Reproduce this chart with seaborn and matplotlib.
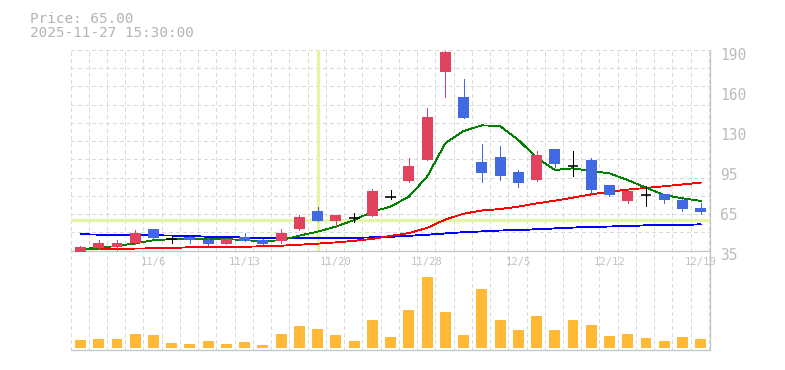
import numpy as np
import pandas as pd
import matplotlib
matplotlib.use("Agg")
import matplotlib.pyplot as plt
import matplotlib.transforms as mtransforms
import seaborn as sns

# ---------------- data ----------------
dates = ["10/30", "10/31", "11/4", "11/5", "11/6", "11/7", "11/10", "11/11", "11/12",
         "11/13", "11/14", "11/17", "11/18", "11/19", "11/20", "11/21", "11/25", "11/26",
         "11/27", "11/28", "12/1", "12/2", "12/3", "12/4", "12/5", "12/8", "12/9",
         "12/10", "12/11", "12/12", "12/15", "12/16", "12/17", "12/18", "12/19"]
date_ticks = ["11/6", "11/13", "11/20", "11/28", "12/5", "12/12", "12/19"]

opens = [34.1, 36.7, 37.7, 41.0, 51.9, 44.1, 45.2, 43.1, 40.0, 45.5, 43.1, 42.4,
         51.9, 65.6, 57.9, 60.4, 62.0, 76.5, 88.9, 105.4, 173.6, 154.2, 103.6, 107.5,
         95.9, 89.9, 113.7, 100.3, 105.2, 85.8, 73.6, 77.8, 78.8, 74.1, 68.2]
highs = [38.7, 43.4, 43.4, 51.1, 51.9, 46.5, 46.0, 44.5, 44.9, 48.6, 44.1, 51.9,
         62.5, 68.7, 62.5, 63.8, 82.7, 81.7, 106.5, 145.5, 189.8, 167.9, 117.6, 116.0,
         97.4, 112.1, 113.7, 112.1, 106.7, 85.8, 82.9, 85.0, 78.8, 75.2, 71.8]
lows = [34.1, 36.5, 35.2, 39.8, 43.9, 41.0, 41.0, 39.3, 40.0, 42.6, 40.0, 41.0,
        50.7, 57.9, 53.4, 57.1, 62.0, 74.9, 87.9, 105.4, 154.2, 137.9, 88.3, 89.9,
        84.5, 89.1, 99.5, 93.0, 79.3, 77.2, 71.8, 69.5, 72.1, 65.6, 63.5]
closes = [37.9, 41.0, 40.8, 48.8, 44.9, 44.1, 43.4, 40.0, 44.1, 42.6, 40.0, 48.8,
          61.0, 57.9, 62.5, 60.4, 81.1, 76.5, 100.7, 138.7, 189.1, 137.9, 95.3, 93.0,
          87.6, 109.0, 102.3, 100.3, 81.9, 78.0, 81.4, 77.8, 74.4, 67.2, 65.1]

ma_short = [36.0, 37.2, 38.5, 40.5, 43.0, 43.8, 44.1, 44.2, 43.8, 43.1, 42.0, 43.1,
            46.5, 49.6, 53.5, 58.6, 65.1, 69.0, 76.7, 92.2, 118.1, 127.6, 132.0, 131.5,
            120.7, 107.0, 97.4, 98.7, 96.6, 94.8, 89.6, 83.7, 78.0, 75.5, 73.4]
ma_mid = [35.9, 35.9, 36.0, 36.5, 36.7, 37.0, 37.5, 37.5, 37.5, 37.9, 38.3, 38.7,
          39.5, 40.3, 41.3, 42.5, 44.0, 46.3, 48.5, 52.5, 59.0, 63.5, 66.0, 67.1,
          69.0, 71.5, 73.6, 76.0, 78.5, 80.6, 82.2, 83.5, 84.8, 86.2, 87.6]
ma_long = [47.6, 47.3, 46.8, 46.8, 46.8, 46.6, 46.2, 45.7, 45.5, 45.0, 44.8, 44.4,
           44.4, 44.5, 44.6, 44.8, 45.2, 45.6, 46.4, 47.2, 48.2, 49.2, 49.8, 50.5,
           50.8, 51.5, 52.1, 52.8, 53.2, 53.6, 54.0, 54.5, 54.6, 54.8, 55.3]

volumes = [8, 9, 9, 14, 13, 5, 4, 7, 4, 6, 3, 14, 22, 19, 13, 7, 28, 11,
           38, 71, 36, 13, 59, 28, 18, 32, 18, 28, 23, 12, 14, 10, 7, 11, 9]

price_ticks = [35, 66, 97, 128, 159, 190]
price_labels = ["35", "65", "95", "130", "160", "190"]
cross_index = 13
cross_price = 58.4
info_lines = ["Price: 65.00", "2025-11-27 15:30:00"]

# ---------------- styling ----------------
C_UP = "#E1435F"
C_DOWN = "#4169E1"
C_VOL = "#FFB935"
C_GRID = "#d9d9d9"
C_AXIS = "#c4c4c4"
C_TEXT = "#b4b4b4"
C_CROSS = "#E4F5A8"
PX = 0.72  # one pixel in points at 100 dpi

sns.set_theme(style="white")
plt.rcParams['font.family'] = ['DejaVu Sans Mono', 'DejaVu Sans']

df = pd.DataFrame({"i": np.arange(len(dates)), "date": dates, "open": opens,
                   "high": highs, "low": lows, "close": closes,
                   "ma_s": ma_short, "ma_m": ma_mid, "ma_l": ma_long, "vol": volumes})

W, H = 785, 370
fig = plt.figure(figsize=(W / 100, H / 100), dpi=100)
fig.patch.set_facecolor("white")


def rect(x0, y0, x1, y1):
    return [x0 / W, 1 - y1 / H, (x1 - x0) / W, (y1 - y0) / H]


ax = fig.add_axes(rect(70.5, 50, 710, 250.5))
axv = fig.add_axes(rect(70.5, 250.5, 710, 350.3))

XL = (-0.548, 34.51)
YL = (35, 190.4)

# grid
for a in (ax, axv):
    for gx in np.arange(XL[0], XL[1], 1.0):
        a.axvline(gx, color=C_GRID, lw=PX, ls=(0, (3, 3)), zorder=0.5, antialiased=False)
for gy in np.linspace(YL[0], YL[1], 12)[1:]:
    ax.axhline(gy, color=C_GRID, lw=PX, ls=(0, (3, 3)), zorder=0.5, clip_on=False,
               antialiased=False)

# crosshair
ax.axvline(cross_index, color=C_CROSS, lw=3.3 * PX, zorder=1)
ax.axhline(cross_price, color=C_CROSS, lw=3.3 * PX, zorder=1)

# moving averages
for col, c in (("ma_l", "#0000FF"), ("ma_m", "#FF0000"), ("ma_s", "#008000")):
    sns.lineplot(data=df, x="i", y=col, ax=ax, color=c, lw=0.85 * PX, zorder=2,
                 antialiased=False, legend=False)

# candles
up = df[df.close > df.open]
dn = df[df.close < df.open]
dj = df[df.close == df.open]
for sub, c in ((up, C_UP), (dn, C_DOWN)):
    ax.vlines(sub.i, sub.low, sub.high, color=c, lw=PX, zorder=3, antialiased=False)
    ax.bar(sub.i, sub.close - sub.open, bottom=sub.open, width=0.6, color=c,
           linewidth=0, zorder=4, clip_on=False)
ax.vlines(dj.i, dj.low, dj.high, color="black", lw=PX, zorder=4, antialiased=False)
ax.hlines(dj.close, dj.i - 0.3, dj.i + 0.3, color="black", lw=1.6 * PX, zorder=4)

ax.set_xlim(*XL)
ax.set_ylim(*YL)

# volume
sns.barplot(data=df, x="i", y="vol", ax=axv, native_scale=True, width=0.6,
            color=C_VOL, saturation=1, linewidth=0, zorder=2)
axv.set_xlim(*XL)
axv.set_ylim(-2.3, 97.5)

# axes decoration
for a in (ax, axv):
    a.set_facecolor("none")
    a.set_xlabel("")
    a.set_ylabel("")
    for s in ("left", "top"):
        a.spines[s].set_visible(False)
    for s in ("bottom", "right"):
        a.spines[s].set_color(C_AXIS)
        a.spines[s].set_linewidth(1.3 * PX)
    a.set_xticks([])
axv.set_yticks([])

ax.yaxis.tick_right()
ax.set_yticks(price_ticks)
ax.set_yticklabels(price_labels)
ax.tick_params(axis="y", length=0, pad=7.0, labelsize=10.5, labelcolor="#bcbcbc")
shift = mtransforms.ScaledTranslation(0, -3 / 100, fig.dpi_scale_trans)
for lab in ax.get_yticklabels():
    lab.set_transform(lab.get_transform() + shift)
    lab.set_horizontalalignment("left")

# date labels
lab_trans = mtransforms.blended_transform_factory(axv.transData, axv.transAxes)
for i, d in enumerate(dates):
    if d in date_ticks:
        axv.text(i, 1 - 12 / 99.8, d, transform=lab_trans, ha="center", va="center",
                 fontsize=7.6, color="#c2c2c2", zorder=5)

# info text
fig.text(30 / W, 1 - 22.7 / H, info_lines[0], ha="left", va="baseline",
         fontsize=10.4, color=C_TEXT)
fig.text(30 / W, 1 - 37.3 / H, info_lines[1], ha="left", va="baseline",
         fontsize=10.4, color=C_TEXT)

fig.savefig("out.png", dpi=100, facecolor="white")
